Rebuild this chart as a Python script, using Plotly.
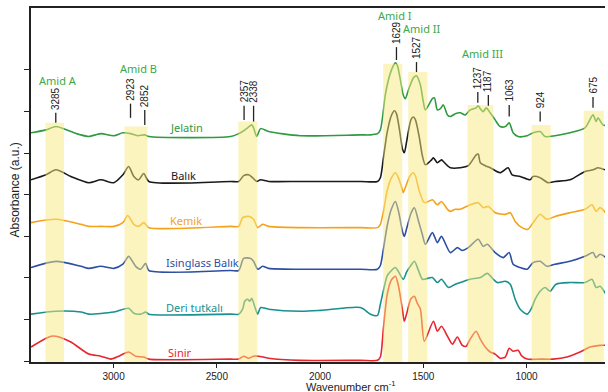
import plotly.graph_objects as go

# ---------------- data (wavenumber cm-1, absorbance a.u. with vertical offsets) ----------------
jel_wn = [3400, 3327, 3279, 3207, 3158, 3120, 3062, 2999, 2955, 2918, 2884, 2849, 2829, 2433, 2394, 2370, 2351, 2331, 2322, 2307, 2288, 2249, 2095, 1804, 1756, 1722, 1708, 1693, 1684, 1669, 1650, 1635, 1625, 1611, 1597, 1587, 1572, 1548, 1533, 1514, 1500, 1490, 1456, 1446, 1432, 1417, 1403, 1383, 1369, 1345, 1321, 1297, 1273, 1244, 1234, 1224, 1210, 1195, 1176, 1152, 1128, 1103, 1084, 1065, 1041, 997, 968, 934, 910, 862, 789, 717, 678, 663, 654, 630, 610]
jel_y = [5.49, 5.56, 5.64, 5.52, 5.44, 5.40, 5.47, 5.42, 5.49, 5.47, 5.42, 5.44, 5.40, 5.40, 5.47, 5.54, 5.61, 5.68, 5.61, 5.40, 5.59, 5.52, 5.42, 5.44, 5.44, 5.47, 5.56, 6.04, 6.40, 6.76, 7.05, 7.17, 7.10, 6.76, 6.40, 6.31, 6.52, 6.81, 6.86, 6.64, 6.24, 6.04, 6.31, 6.33, 6.04, 6.07, 6.16, 5.92, 5.88, 5.95, 5.97, 5.92, 6.04, 6.09, 6.14, 6.07, 6.00, 6.09, 5.97, 5.80, 5.64, 5.64, 5.73, 5.49, 5.40, 5.42, 5.49, 5.52, 5.40, 5.42, 5.49, 5.61, 5.92, 5.76, 5.85, 5.68, 5.66]

bal_wn = [3400, 3327, 3279, 3207, 3120, 3062, 2999, 2955, 2927, 2902, 2879, 2854, 2829, 2433, 2394, 2370, 2346, 2327, 2307, 2288, 2249, 2095, 1804, 1722, 1708, 1693, 1675, 1655, 1640, 1630, 1615, 1600, 1592, 1580, 1560, 1548, 1538, 1520, 1505, 1490, 1460, 1451, 1432, 1412, 1403, 1383, 1369, 1321, 1282, 1244, 1234, 1224, 1200, 1176, 1128, 1089, 1070, 1031, 983, 968, 934, 896, 862, 789, 717, 678, 654, 620]
bal_y = [4.36, 4.48, 4.60, 4.44, 4.29, 4.36, 4.29, 4.48, 4.68, 4.44, 4.36, 4.51, 4.32, 4.32, 4.32, 4.46, 4.48, 4.41, 4.32, 4.36, 4.32, 4.32, 4.32, 4.32, 4.41, 4.89, 5.50, 5.90, 6.02, 5.95, 5.55, 5.08, 5.01, 5.30, 5.80, 5.87, 5.80, 5.40, 4.95, 4.72, 4.84, 4.89, 4.77, 4.84, 4.80, 4.70, 4.65, 4.65, 4.70, 4.96, 4.98, 4.77, 4.70, 4.65, 4.53, 4.65, 4.48, 4.44, 4.36, 4.44, 4.41, 4.29, 4.32, 4.36, 4.56, 4.60, 4.65, 4.60]

kem_wn = [3400, 3279, 3158, 3120, 3062, 2999, 2955, 2932, 2902, 2879, 2854, 2829, 2433, 2394, 2375, 2346, 2322, 2302, 2278, 2249, 2095, 1804, 1722, 1708, 1693, 1675, 1655, 1635, 1620, 1600, 1597, 1585, 1565, 1548, 1538, 1520, 1500, 1490, 1456, 1432, 1412, 1383, 1369, 1345, 1321, 1273, 1234, 1210, 1185, 1152, 1103, 1079, 1055, 1022, 993, 968, 934, 901, 862, 789, 717, 683, 663, 644, 610]
kem_y = [3.33, 3.41, 3.29, 3.24, 3.24, 3.24, 3.33, 3.50, 3.29, 3.24, 3.33, 3.21, 3.24, 3.24, 3.45, 3.48, 3.41, 3.21, 3.29, 3.24, 3.21, 3.21, 3.21, 3.29, 3.60, 4.10, 4.40, 4.53, 4.40, 4.10, 4.05, 4.20, 4.45, 4.53, 4.45, 4.10, 3.84, 3.81, 3.88, 3.76, 3.84, 3.65, 3.60, 3.65, 3.65, 3.76, 3.81, 3.69, 3.72, 3.57, 3.53, 3.57, 3.36, 3.21, 3.17, 3.33, 3.53, 3.41, 3.48, 3.57, 3.65, 3.76, 3.60, 3.69, 3.53]

isi_wn = [3400, 3279, 3158, 3120, 3062, 2999, 2955, 2927, 2893, 2869, 2845, 2829, 2433, 2394, 2370, 2336, 2322, 2302, 2278, 2249, 2095, 1804, 1722, 1708, 1693, 1675, 1655, 1635, 1620, 1600, 1592, 1580, 1560, 1543, 1525, 1505, 1490, 1456, 1432, 1412, 1369, 1335, 1311, 1282, 1234, 1210, 1190, 1152, 1113, 1084, 1065, 1031, 997, 968, 934, 901, 862, 789, 717, 678, 663, 644, 610]
isi_y = [2.25, 2.40, 2.28, 2.23, 2.28, 2.23, 2.33, 2.52, 2.28, 2.21, 2.35, 2.18, 2.18, 2.18, 2.47, 2.47, 2.40, 2.21, 2.28, 2.23, 2.21, 2.21, 2.21, 2.30, 2.70, 3.25, 3.65, 3.84, 3.60, 3.10, 3.00, 3.20, 3.55, 3.69, 3.40, 3.05, 2.81, 3.09, 2.85, 3.00, 2.61, 2.73, 2.66, 2.73, 2.93, 2.76, 2.81, 2.61, 2.49, 2.61, 2.33, 2.25, 2.21, 2.37, 2.40, 2.28, 2.33, 2.40, 2.52, 2.61, 2.49, 2.57, 2.47]

der_wn = [3400, 3279, 3158, 3120, 2999, 2927, 2902, 2869, 2845, 2829, 2433, 2394, 2375, 2365, 2351, 2341, 2331, 2317, 2302, 2288, 2249, 2095, 1998, 1804, 1756, 1722, 1708, 1693, 1675, 1660, 1635, 1620, 1597, 1580, 1560, 1543, 1525, 1505, 1495, 1456, 1432, 1412, 1378, 1345, 1321, 1273, 1224, 1190, 1161, 1142, 1103, 1079, 1055, 1031, 997, 978, 958, 934, 910, 886, 857, 789, 717, 683, 663, 644, 610]
der_y = [1.13, 1.20, 1.18, 1.13, 1.18, 1.27, 1.15, 1.13, 1.18, 1.13, 1.13, 1.13, 1.25, 1.44, 1.49, 1.44, 1.51, 1.32, 1.13, 1.29, 1.25, 1.20, 1.22, 1.29, 1.13, 1.10, 1.37, 1.70, 2.05, 2.15, 2.25, 2.15, 1.97, 2.15, 2.30, 2.40, 2.20, 1.97, 1.97, 2.01, 1.89, 1.97, 1.77, 1.85, 1.89, 1.97, 2.01, 2.11, 1.97, 1.89, 1.92, 1.85, 1.49, 1.25, 1.13, 1.25, 1.49, 1.68, 1.77, 1.68, 1.85, 1.89, 1.89, 1.97, 1.77, 1.80, 1.56]

sin_wn = [3400, 3327, 3303, 3279, 3207, 3120, 3062, 3013, 2975, 2927, 2893, 2854, 2829, 2433, 2394, 2370, 2346, 2322, 2298, 2249, 2095, 1804, 1722, 1708, 1693, 1675, 1655, 1635, 1620, 1600, 1592, 1580, 1560, 1543, 1530, 1514, 1495, 1451, 1432, 1412, 1383, 1359, 1335, 1311, 1292, 1273, 1244, 1224, 1200, 1176, 1152, 1128, 1103, 1084, 1065, 1041, 1022, 997, 934, 872, 804, 741, 692, 644, 610]
sin_y = [0.34, 0.55, 0.60, 0.60, 0.46, 0.17, 0.12, 0.05, 0.12, 0.22, 0.12, 0.10, 0.05, 0.05, 0.05, 0.12, 0.07, 0.12, 0.12, 0.07, 0.02, 0.02, 0.02, 0.10, 0.80, 1.60, 1.95, 2.04, 1.80, 1.20, 0.96, 1.15, 1.50, 1.56, 1.40, 1.25, 0.48, 0.96, 0.72, 0.84, 0.60, 0.41, 0.58, 0.38, 0.36, 0.53, 0.72, 0.53, 0.34, 0.22, 0.17, 0.07, 0.10, 0.31, 0.24, 0.26, 0.12, 0.05, 0.05, 0.05, 0.10, 0.22, 0.34, 0.38, 0.38]

series_names = ["Jelatin", "Balık", "Kemik", "Isinglass Balık", "Deri tutkalı", "Sinir"]
series_colors = ["#2f9a3e", "#1a1a1a", "#f5a21b", "#2d4fa2", "#17908e", "#e8262c"]
series_label_wn = [2738, 2733, 2738, 2757, 2757, 2748]
series_label_y = [5.61, 4.46, 3.38, 2.37, 1.29, 0.22]

# highlighted bands: (wn high, wn low, top)
band_hi = [3330, 2947, 2396, 1694, 1573, 1286, 975, 723]
band_lo = [3240, 2836, 2304, 1602, 1481, 1160, 883, 626]
band_top = [5.73, 5.64, 5.76, 7.15, 6.95, 6.16, 5.68, 6.02]

# peak labels
peak_text = ["3285", "2923", "2852", "2357", "2338", "1629", "1527", "1237", "1187", "1063", "924", "675"]
peak_pos = [3280, 2918, 2849, 2368, 2322, 1630, 1533, 1236, 1185, 1084, 934, 678]
peak_lo = [5.73, 5.85, 5.68, 5.80, 5.76, 7.24, 6.95, 6.21, 6.14, 5.88, 5.76, 6.09]
peak_hi = [5.97, 6.19, 6.04, 6.14, 6.14, 7.55, 7.19, 6.47, 6.40, 6.16, 6.00, 6.35]

# region labels
region_text = ["Amid A", "Amid B", "Amid I", "Amid II", "Amid III"]
region_wn = [3269, 2878, 1635, 1505, 1215]
region_y = [6.74, 7.03, 8.30, 7.99, 7.39]

x_ticks = [3000, 2500, 2000, 1500, 1000]
y_ticks = [0, 1, 2, 3, 4, 5, 6, 7]

# ---------------- figure ----------------
fig = go.Figure()
all_wn = [jel_wn, bal_wn, kem_wn, isi_wn, der_wn, sin_wn]
all_y = [jel_y, bal_y, kem_y, isi_y, der_y, sin_y]
for wn, yy, name, col in zip(all_wn, all_y, series_names, series_colors):
    fig.add_trace(go.Scatter(x=wn, y=yy, mode="lines", name=name,
                             line=dict(color=col, width=1.6, shape="spline", smoothing=0.7),
                             showlegend=False, hoverinfo="skip"))

YMIN = -0.02
shapes = []
for hi, lo, top in zip(band_hi, band_lo, band_top):
    shapes.append(dict(type="rect", xref="x", yref="y", x0=hi, x1=lo, y0=YMIN, y1=top,
                       fillcolor="rgb(250,234,128)", opacity=0.5, line=dict(width=0), layer="above"))
for pos, lo, hi in zip(peak_pos, peak_lo, peak_hi):
    shapes.append(dict(type="line", xref="x", yref="y", x0=pos, x1=pos, y0=lo, y1=hi,
                       line=dict(color="#222222", width=1.3), layer="above"))

annotations = []
for t, pos, hi in zip(peak_text, peak_pos, peak_hi):
    annotations.append(dict(x=pos, y=hi, xref="x", yref="y", text=t, showarrow=False,
                            textangle=-90, xanchor="center", yanchor="bottom", yshift=1,
                            font=dict(family="Liberation Sans", size=10, color="#222222")))
for t, wn, yy in zip(region_text, region_wn, region_y):
    annotations.append(dict(x=wn, y=yy, xref="x", yref="y", text=t, showarrow=False,
                            xanchor="center", yanchor="middle",
                            font=dict(family="Noto Sans", size=11, color="#39a94a")))
for t, wn, yy, col in zip(series_names, series_label_wn, series_label_y, series_colors):
    annotations.append(dict(x=wn, y=yy, xref="x", yref="y", text=t, showarrow=False,
                            xanchor="left", yanchor="middle",
                            font=dict(family="Noto Sans", size=11, color=col)))
annotations.append(dict(x=0.557, y=-0.067, xref="paper", yref="paper",
                        text="Wavenumber cm<sup>-1</sup>", showarrow=False,
                        xanchor="center", yanchor="middle",
                        font=dict(family="Liberation Sans", size=11, color="#222222")))
annotations.append(dict(x=-0.028, y=0.487, xref="paper", yref="paper",
                        text="Absorbance (a.u.)", showarrow=False, textangle=-90,
                        xanchor="center", yanchor="middle",
                        font=dict(family="Liberation Sans", size=12, color="#222222")))

fig.update_layout(
    width=608, height=392,
    margin=dict(l=31, r=3, t=8, b=30),
    paper_bgcolor="white", plot_bgcolor="white",
    shapes=shapes, annotations=annotations,
    xaxis=dict(range=[3400, 620], tickvals=x_ticks, ticks="outside", ticklen=4,
               tickcolor="#222222", tickwidth=1.3, showline=True, linecolor="#222222",
               linewidth=1.8, mirror=True, showgrid=False, zeroline=False,
               tickfont=dict(family="Liberation Sans", size=10, color="#222222")),
    yaxis=dict(range=[YMIN, 8.49], tickvals=y_ticks, ticks="outside", ticklen=5,
               tickcolor="#222222", tickwidth=1.3, showticklabels=False, showline=True,
               linecolor="#222222", linewidth=1.8, showgrid=False, zeroline=False),
)

fig.write_html("out.html", config={"displayModeBar": False},
               post_script="document.body.style.margin='0';document.body.style.overflow='hidden';")
